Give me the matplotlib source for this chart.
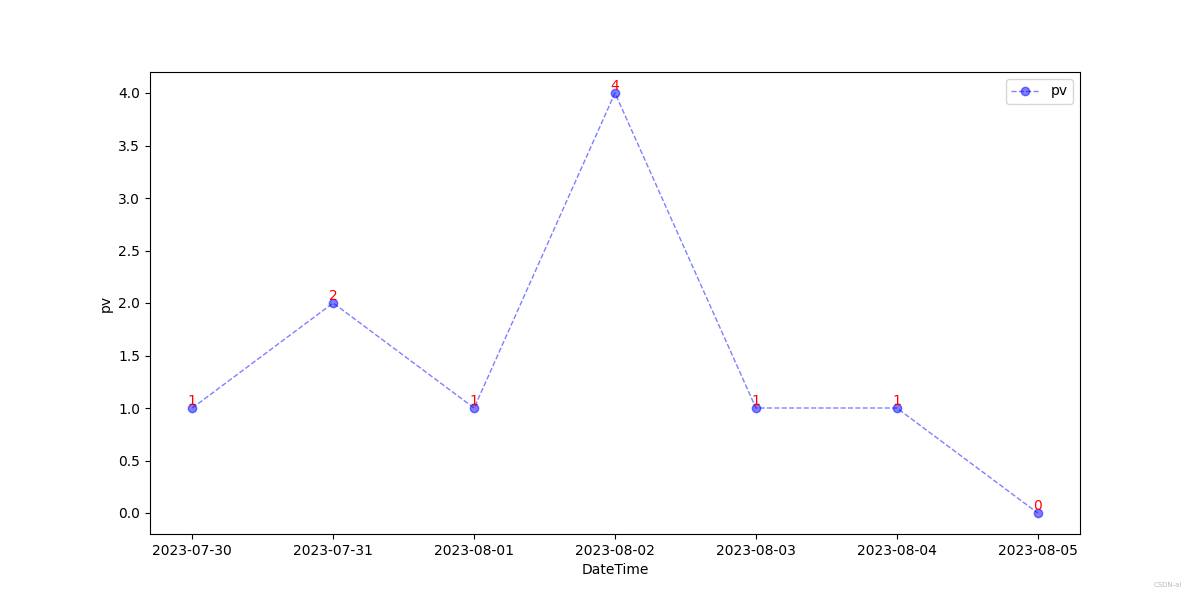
import matplotlib
matplotlib.use("Agg")
import matplotlib.pyplot as plt

dates = ["2023-07-30", "2023-07-31", "2023-08-01", "2023-08-02",
         "2023-08-03", "2023-08-04", "2023-08-05"]
pv = [1, 2, 1, 4, 1, 1, 0]

fig = plt.figure(figsize=(12, 6), dpi=100)
plt.plot(dates, pv, "o--", color="blue", alpha=0.5, linewidth=1, label="pv")
for d, v in zip(dates, pv):
    plt.text(d, v, str(v), ha="center", va="bottom", color="red", fontsize=10)
plt.xlabel("DateTime")
plt.ylabel("pv")
plt.legend()
fig.text(0.985, 0.02, "CSDN-ai", fontsize=5, color="#bbbbbb", ha="right", va="bottom")
plt.savefig("out.png")
